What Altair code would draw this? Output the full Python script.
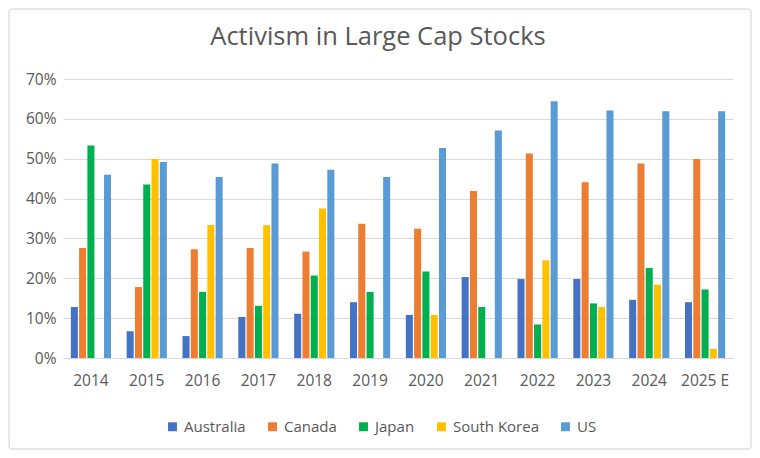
import altair as alt
import pandas as pd

years = ["2014", "2015", "2016", "2017", "2018", "2019", "2020", "2021", "2022", "2023", "2024", "2025 E"]
countries = ["Australia", "Canada", "Japan", "South Korea", "US"]
australia = [12.8, 6.7, 5.5, 10.3, 11.1, 14.0, 10.8, 20.3, 19.8, 19.8, 14.6, 14.0]
canada = [27.6, 17.8, 27.3, 27.6, 26.7, 33.7, 32.4, 41.9, 51.3, 44.1, 48.8, 49.9]
japan = [53.3, 43.5, 16.6, 13.1, 20.7, 16.6, 21.7, 12.8, 8.4, 13.7, 22.6, 17.2]
south_korea = [0, 49.9, 33.4, 33.3, 37.5, 0, 10.8, 0, 24.5, 12.8, 18.4, 2.3]
us = [46.0, 49.2, 45.4, 48.8, 47.2, 45.4, 52.7, 57.1, 64.4, 62.1, 61.9, 61.9]
colors = ["#4472C4", "#ED7D31", "#00B050", "#FFC000", "#5B9BD5"]

series = [australia, canada, japan, south_korea, us]
rows = []
for c, vals in zip(countries, series):
    for y, v in zip(years, vals):
        rows.append({"year": y, "country": c, "value": v})
df = pd.DataFrame(rows)

FONT = "Open Sans"
GRAY = "#595959"
W, H = 670, 279
PL, PT, PR, PB = 55, 71, 19, 92

bars = alt.Chart(df).mark_bar().encode(
    x=alt.X("year:N", sort=years,
            scale=alt.Scale(paddingInner=0.28, paddingOuter=0.14),
            axis=alt.Axis(title=None, labelAngle=0, labelFontSize=15.5, labelColor=GRAY,
                          labelFont=FONT, ticks=False, domainColor="#d9d9d9",
                          labelPadding=15)),
    xOffset=alt.XOffset("country:N", sort=countries, scale=alt.Scale(paddingInner=0.15)),
    y=alt.Y("value:Q", scale=alt.Scale(domain=[0, 70], nice=False),
            axis=alt.Axis(title=None, values=[0, 10, 20, 30, 40, 50, 60, 70],
                          labelExpr="datum.value + '%'", labelFontSize=15.5, labelColor=GRAY,
                          labelFont=FONT, ticks=False, domain=False, gridColor="#d9d9d9",
                          labelPadding=7)),
    color=alt.Color("country:N", sort=countries,
                    scale=alt.Scale(domain=countries, range=colors),
                    legend=alt.Legend(title=None, orient="none", direction="horizontal",
                                      legendX=102, legendY=340, symbolType="square",
                                      symbolSize=80, symbolStrokeWidth=0,
                                      labelFontSize=15, labelColor=GRAY, labelFont=FONT,
                                      labelOffset=4, columnPadding=19)),
)

border = alt.Chart(alt.Data(values=[{}])).mark_rect(
    fill="transparent", stroke="#d0d0d0", strokeWidth=1, cornerRadius=3
).encode(
    x=alt.value(-PL + 1), x2=alt.value(W + PR - 1),
    y=alt.value(-PT + 1), y2=alt.value(H + PB - 1),
)

chart = alt.layer(bars, border).properties(
    width=W, height=H,
    title=alt.TitleParams("Activism in Large Cap Stocks", fontSize=25.5, font=FONT,
                          fontWeight="normal", color=GRAY, anchor="middle", frame="group",
                          dx=-20, offset=-42),
    autosize=alt.AutoSizeParams(type="none"),
    padding={"left": PL, "top": PT, "right": PR, "bottom": PB},
).configure_view(stroke=None)

chart.save("out.html", embed_options={"renderer": "svg", "actions": False})
